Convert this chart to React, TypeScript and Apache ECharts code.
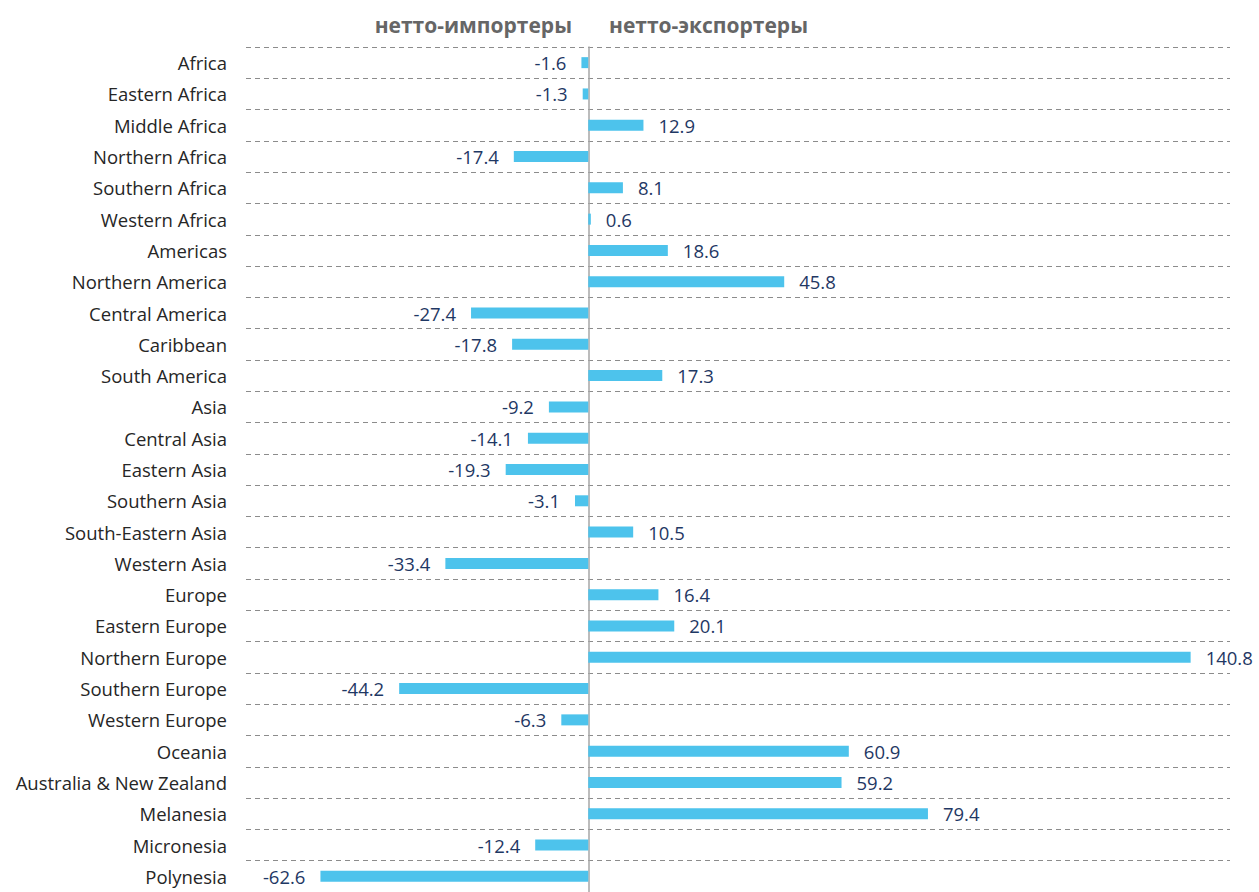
import React, { useEffect, useRef } from "react";
import * as echarts from "echarts";

const categories = [
  "Africa", "Eastern Africa", "Middle Africa", "Northern Africa", "Southern Africa", "Western Africa",
  "Americas", "Northern America", "Central America", "Caribbean", "South America",
  "Asia", "Central Asia", "Eastern Asia", "Southern Asia", "South-Eastern Asia", "Western Asia",
  "Europe", "Eastern Europe", "Northern Europe", "Southern Europe", "Western Europe",
  "Oceania", "Australia & New Zealand", "Melanesia", "Micronesia", "Polynesia",
];

const values = [
  -1.6, -1.3, 12.9, -17.4, 8.1, 0.6,
  18.6, 45.8, -27.4, -17.8, 17.3,
  -9.2, -14.1, -19.3, -3.1, 10.5, -33.4,
  16.4, 20.1, 140.8, -44.2, -6.3,
  60.9, 59.2, 79.4, -12.4, -62.6,
];

const leftTitle = "нетто-импортеры";
const rightTitle = "нетто-экспортеры";

export default function App() {
  const ref = useRef<HTMLDivElement>(null);
  useEffect(() => {
    if (!ref.current) return;
    const chart = echarts.init(ref.current, null, { renderer: "svg" });
    const font = "Open Sans, Noto Sans, sans-serif";
    chart.setOption({
      animation: false,
      grid: { left: 246, top: 47, width: 984, height: 846, containLabel: false },
      xAxis: {
        type: "value",
        min: -80,
        max: 150,
        show: false,
        splitLine: { show: false },
      },
      yAxis: {
        type: "category",
        data: categories,
        inverse: true,
        axisLine: { show: true, onZero: true, lineStyle: { color: "#a6a6a6", width: 1.5 } },
        axisTick: { show: false },
        axisLabel: {
          show: true,
          color: "#262626",
          fontFamily: font,
          fontSize: 18.5,
          margin: 19,
          interval: 0,
        },
        splitLine: {
          show: true,
          lineStyle: { color: "#8c8c8c", type: [5, 4], width: 1 },
        },
        position: "left",
      },
      series: [
        {
          type: "bar",
          barWidth: 11,
          itemStyle: { color: "#4DC3EC" },
          data: values.map((v) => ({
            value: v,
            label: { position: v < 0 ? "left" : "right" },
          })),
          label: {
            show: true,
            distance: 15,
            color: "#1F3864",
            fontFamily: font,
            fontSize: 18.5,
            formatter: (p: any) => String(p.value),
          },
        },
      ],
      graphic: [
        {
          type: "text",
          x: 572,
          y: 25,
          style: {
            text: leftTitle,
            align: "right",
            verticalAlign: "middle",
            fill: "#666666",
            font: `bold 21px ${font}`,
          },
        },
        {
          type: "text",
          x: 609,
          y: 25,
          style: {
            text: rightTitle,
            align: "left",
            verticalAlign: "middle",
            fill: "#666666",
            font: `bold 21px ${font}`,
          },
        },
      ],
    });
    return () => chart.dispose();
  }, []);
  return (
    <div
      ref={ref}
      style={{ position: "absolute", left: 0, top: 0, width: 1259, height: 892, background: "#fff" }}
    />
  );
}
